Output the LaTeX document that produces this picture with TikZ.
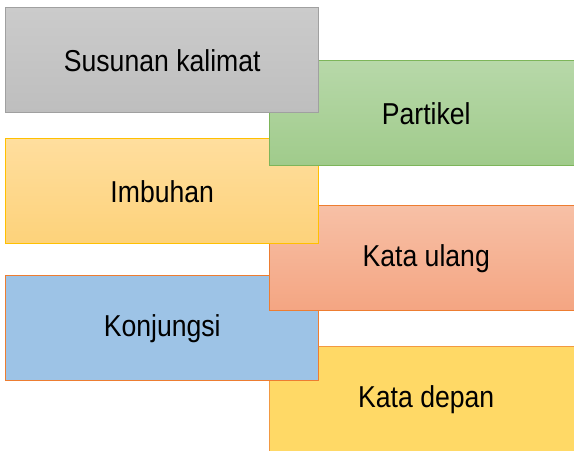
\documentclass[tikz,border=0pt]{standalone}
\usepackage{fontspec}
\setmainfont[FakeStretch=0.88]{Liberation Sans}

\definecolor{abuTop}{HTML}{CBCBCB}
\definecolor{abuBot}{HTML}{BEBEBE}
\definecolor{abuLine}{HTML}{A0A0A0}
\definecolor{hijauTop}{HTML}{B7D8A9}
\definecolor{hijauBot}{HTML}{A0CB8B}
\definecolor{hijauLine}{HTML}{7DB55A}
\definecolor{kuningTop}{HTML}{FFDE9E}
\definecolor{kuningBot}{HTML}{FDD27A}
\definecolor{kuningLine}{HTML}{FFC000}
\definecolor{salemTop}{HTML}{F7C0A6}
\definecolor{salemBot}{HTML}{F4A582}
\definecolor{oranyeLine}{HTML}{ED7D31}
\definecolor{biru}{HTML}{9DC3E6}
\definecolor{emas}{HTML}{FFD966}

\begin{document}
\begin{tikzpicture}[
					x=0.025cm, y=-0.025cm,
					box/.style={draw, line width=1pt, anchor=north west, inner sep=0pt,
						minimum width=7.825cm, minimum height=2.625cm,
						font=\fontsize{21.5}{24}\selectfont},
					abu/.style={box, top color=abuTop, bottom color=abuBot, draw=abuLine},
					hijau/.style={box, top color=hijauTop, bottom color=hijauBot, draw=hijauLine},
					kuning/.style={box, top color=kuningTop, bottom color=kuningBot, draw=kuningLine},
					salem/.style={box, top color=salemTop, bottom color=salemBot, draw=oranyeLine},
					biru/.style={box, fill=biru, draw=oranyeLine},
					emas/.style={box, fill=emas, draw=oranyeLine!70!emas}
				]
				% Parameter posisi (px)
				\def\xa{5}       % kolom kiri
				\def\xb{269}     % kolom kanan

				\useasboundingbox (0,0) rectangle (574,450);
				\clip (0,0) rectangle (574,450);

				% --- Kolom kanan bawah dulu, supaya tertimpa kotak di atasnya ---
				\node[emas] (depan) at (\xb,346) {Kata depan};

				% --- Konjungsi ---
				\node[biru] (konjungsi) at (\xa,275) {Konjungsi};

				% --- Kata ulang ---
				\node[salem] (ulang) at (\xb,205) {Kata ulang};

				% --- Imbuhan ---
				\node[kuning] (imbuhan) at (\xa,138) {Imbuhan};

				% --- Partikel ---
				\node[hijau] (partikel) at (\xb,60) {Partikel};

				% --- Susunan kalimat ---
				\node[abu] (susunan) at (\xa,7) {Susunan kalimat};

			\end{tikzpicture}
\end{document}
